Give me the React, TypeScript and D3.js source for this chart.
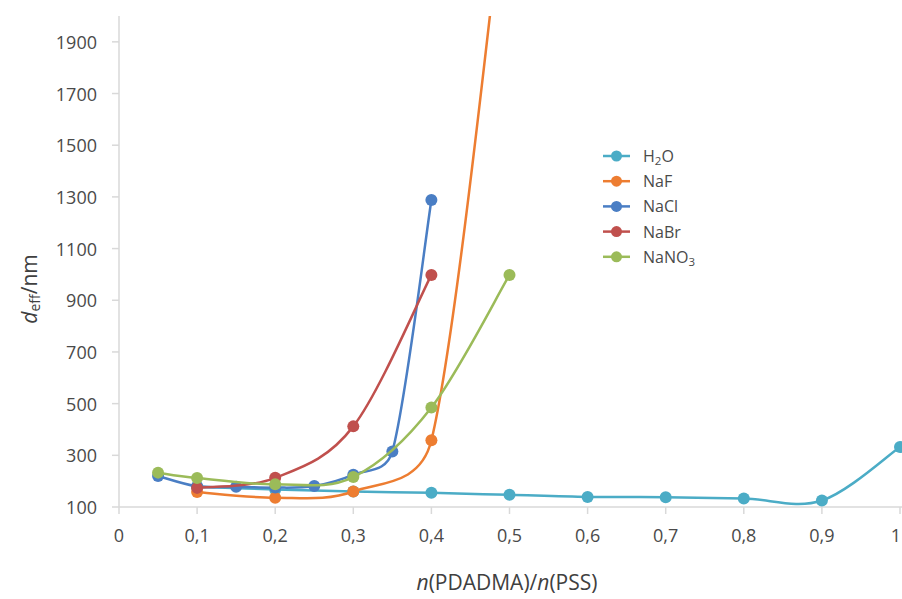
import React from "react";
import * as d3 from "d3";

const xTickValues = [0, 0.1, 0.2, 0.3, 0.4, 0.5, 0.6, 0.7, 0.8, 0.9, 1];
const yTickValues = [100, 300, 500, 700, 900, 1100, 1300, 1500, 1700, 1900];

const h2oX = [0.1, 0.2, 0.3, 0.4, 0.5, 0.6, 0.7, 0.8, 0.9, 1.0];
const h2oY = [178, 168, 160, 155, 147, 139, 138, 133, 125, 332];

const nafX = [0.1, 0.2, 0.3, 0.4, 0.5];
const nafY = [158, 136, 160, 358, 2650];

const naclX = [0.05, 0.1, 0.15, 0.2, 0.25, 0.3, 0.35, 0.4];
const naclY = [220, 180, 178, 175, 181, 225, 315, 1288];

const nabrX = [0.1, 0.2, 0.3, 0.4];
const nabrY = [174, 213, 412, 998];

const nano3X = [0.05, 0.1, 0.2, 0.3, 0.4, 0.5];
const nano3Y = [233, 212, 188, 216, 485, 998];

const seriesNames = ["H2O", "NaF", "NaCl", "NaBr", "NaNO3"];
const seriesColors = ["#4BACC6", "#ED7D31", "#4A7EC4", "#C0504D", "#9BBB59"];

const W = 902;
const H = 599;
const left = 119;
const right = 900;
const top = 16;
const bottom = 507;

const FONT = "'Open Sans', 'Noto Sans', sans-serif";

// Excel-style smoothed line: Bezier with control points limited by segment length
function excelSmooth(p: [number, number][]): string {
  if (p.length === 0) return "";
  const path = d3.path();
  path.moveTo(p[0][0], p[0][1]);
  const dist = (a: [number, number], b: [number, number]) => Math.hypot(a[0] - b[0], a[1] - b[1]);
  for (let i = 0; i < p.length - 1; i++) {
    const p1 = p[i];
    const p2 = p[i + 1];
    const p0 = i > 0 ? p[i - 1] : p1;
    const p3 = i + 2 < p.length ? p[i + 2] : p2;
    const d02 = dist(p0, p2);
    const d12 = dist(p1, p2);
    const d13 = dist(p1, p3);
    const f1 = d02 / 6 < d12 / 2 ? 1 / 6 : d02 > 0 ? d12 / 2 / d02 : 0;
    const f2 = d13 / 6 < d12 / 2 ? 1 / 6 : d13 > 0 ? d12 / 2 / d13 : 0;
    const b1x = p1[0] + f1 * (p2[0] - p0[0]);
    const b1y = p1[1] + f1 * (p2[1] - p0[1]);
    const b2x = p2[0] - f2 * (p3[0] - p1[0]);
    const b2y = p2[1] - f2 * (p3[1] - p1[1]);
    path.bezierCurveTo(b1x, b1y, b2x, b2y, p2[0], p2[1]);
  }
  return path.toString();
}

export default function App() {
  const x = d3.scaleLinear().domain([0, 1]).range([left, right]);
  const y = d3.scaleLinear().domain([100, 2000]).range([bottom, top]);

  const series = [
    { xs: h2oX, ys: h2oY },
    { xs: nafX, ys: nafY },
    { xs: naclX, ys: naclY },
    { xs: nabrX, ys: nabrY },
    { xs: nano3X, ys: nano3Y },
  ].map((s, i) => ({
    name: seriesNames[i],
    color: seriesColors[i],
    pts: s.xs.map((v, j) => [v, s.ys[j]] as [number, number]),
  }));

  const fmtX = (v: number) => (v === 0 || v === 1 ? String(v) : d3.format(".1f")(v).replace(".", ","));

  const legendX = 603;
  const legendY0 = 156;
  const legendDy = 25.2;

  const renderName = (name: string) => {
    if (name === "H2O")
      return (
        <>
          H
          <tspan fontSize={11.5} dy={4}>2</tspan>
          <tspan dy={-4}>O</tspan>
        </>
      );
    if (name === "NaNO3")
      return (
        <>
          NaNO
          <tspan fontSize={11.5} dy={4}>3</tspan>
        </>
      );
    return name;
  };

  return (
    <div style={{ position: "absolute", left: 0, top: 0 }}>
      <svg width={W} height={H} style={{ display: "block", background: "#fff" }}>
        <defs>
          <clipPath id="plotclip">
            <rect x={0} y={top} width={W} height={H - top} />
          </clipPath>
        </defs>
        {/* axes */}
        <line x1={left} x2={left} y1={top} y2={bottom} stroke="#D9D9D9" strokeWidth={1.5} />
        <line x1={left} x2={W} y1={bottom} y2={bottom} stroke="#D9D9D9" strokeWidth={1.5} />
        {yTickValues.map((v) => (
          <g key={"y" + v}>
            <line x1={left - 7} x2={left} y1={y(v)} y2={y(v)} stroke="#D9D9D9" strokeWidth={1.5} />
            <text
              x={97}
              y={y(v)}
              textAnchor="end"
              dominantBaseline="central"
              fontFamily={FONT}
              fontSize={18}
              fill="#4A4A4A"
            >
              {v}
            </text>
          </g>
        ))}
        {xTickValues.map((v) => (
          <g key={"x" + v}>
            <line x1={x(v)} x2={x(v)} y1={bottom} y2={bottom + 7} stroke="#D9D9D9" strokeWidth={1.5} />
            <text
              x={v === 1 ? W - 1 : x(v)}
              y={535}
              textAnchor={v === 1 ? "end" : "middle"}
              dominantBaseline="central"
              fontFamily={FONT}
              fontSize={18}
              fill="#4A4A4A"
            >
              {fmtX(v)}
            </text>
          </g>
        ))}
        {/* axis titles */}
        <text
          x={507}
          y={582}
          textAnchor="middle"
          dominantBaseline="central"
          fontFamily={FONT}
          fontSize={21}
          fill="#404040"
        >
          <tspan fontStyle="italic">n</tspan>(PDADMA)/<tspan fontStyle="italic">n</tspan>(PSS)
        </text>
        <text
          transform={`translate(29,289) rotate(-90)`}
          textAnchor="middle"
          dominantBaseline="central"
          fontFamily={FONT}
          fontSize={21}
          fill="#404040"
        >
          <tspan fontStyle="italic">d</tspan>
          <tspan fontSize={14} dy={5}>eff</tspan>
          <tspan dy={-5}>/nm</tspan>
        </text>
        {/* series */}
        <g clipPath="url(#plotclip)">
          {series.map((s) => (
            <g key={s.name}>
              <path
                d={excelSmooth(s.pts.map((p) => [x(p[0]), y(p[1])] as [number, number]))}
                fill="none"
                stroke={s.color}
                strokeWidth={2.5}
              />
              {s.pts
                .filter((p) => p[1] <= 2000)
                .map((p, j) => (
                  <circle key={j} cx={x(p[0])} cy={y(p[1])} r={6} fill={s.color} />
                ))}
            </g>
          ))}
        </g>
        {/* legend */}
        {series.map((s, i) => {
          const ly = legendY0 + i * legendDy;
          return (
            <g key={"lg" + s.name}>
              <line x1={legendX} x2={legendX + 27} y1={ly} y2={ly} stroke={s.color} strokeWidth={2.5} />
              <circle cx={legendX + 13.5} cy={ly} r={5.5} fill={s.color} />
              <text
                x={643}
                y={ly}
                dominantBaseline="central"
                fontFamily={FONT}
                fontSize={16}
                fill="#4A4A4A"
              >
                {renderName(s.name)}
              </text>
            </g>
          );
        })}
      </svg>
    </div>
  );
}
